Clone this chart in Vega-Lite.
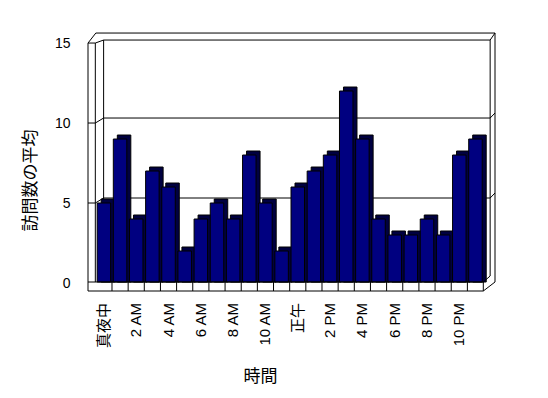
{
  "$schema": "https://vega.github.io/schema/vega-lite/v6.json",
  "width": 417,
  "height": 259,
  "autosize": "none",
  "padding": {"left": 83, "top": 32, "right": 48, "bottom": 107},
  "background": "white",
  "config": {"view": {"stroke": null}, "font": "Liberation Sans"},
  "datasets": {
    "visits": [
      {"hour": 0, "avg": 5}, {"hour": 1, "avg": 9}, {"hour": 2, "avg": 4}, {"hour": 3, "avg": 7},
      {"hour": 4, "avg": 6}, {"hour": 5, "avg": 2}, {"hour": 6, "avg": 4}, {"hour": 7, "avg": 5},
      {"hour": 8, "avg": 4}, {"hour": 9, "avg": 8}, {"hour": 10, "avg": 5}, {"hour": 11, "avg": 2},
      {"hour": 12, "avg": 6}, {"hour": 13, "avg": 7}, {"hour": 14, "avg": 8}, {"hour": 15, "avg": 12},
      {"hour": 16, "avg": 9}, {"hour": 17, "avg": 4}, {"hour": 18, "avg": 3}, {"hour": 19, "avg": 3},
      {"hour": 20, "avg": 4}, {"hour": 21, "avg": 3}, {"hour": 22, "avg": 8}, {"hour": 23, "avg": 9}
    ],
    "ticklabels": [
      {"hour": 0, "label": "真夜中"}, {"hour": 2, "label": "2 AM"}, {"hour": 4, "label": "4 AM"},
      {"hour": 6, "label": "6 AM"}, {"hour": 8, "label": "8 AM"}, {"hour": 10, "label": "10 AM"},
      {"hour": 12, "label": "正午"}, {"hour": 14, "label": "2 PM"}, {"hour": 16, "label": "4 PM"},
      {"hour": 18, "label": "6 PM"}, {"hour": 20, "label": "8 PM"}, {"hour": 22, "label": "10 PM"}
    ],
    "walls": [
      {"x1": -0.985, "y1": 15, "x2": -0.985, "y2": -0.5},
      {"x1": -0.985, "y1": 15, "x2": -0.5, "y2": 15.625},
      {"x1": -0.5, "y1": 15.625, "x2": 24.21, "y2": 15.625},
      {"x1": 24.21, "y1": 15.625, "x2": 24.21, "y2": 0.0625},
      {"x1": -0.985, "y1": 15, "x2": -0.532, "y2": 15},
      {"x1": -0.532, "y1": 15, "x2": -0.532, "y2": 0.0625},
      {"x1": -0.532, "y1": 15, "x2": -0.018, "y2": 15.1875},
      {"x1": -0.018, "y1": 15.1875, "x2": -0.018, "y2": 0.0625},
      {"x1": -0.018, "y1": 15.1875, "x2": 23.91, "y2": 15.1875},
      {"x1": 23.91, "y1": 15.1875, "x2": 23.91, "y2": 0.4375},
      {"x1": 23.91, "y1": 15.1875, "x2": 24.21, "y2": 15.625},
      {"x1": -0.985, "y1": 10, "x2": -0.532, "y2": 10},
      {"x1": -0.532, "y1": 10, "x2": -0.018, "y2": 10.3125},
      {"x1": -0.018, "y1": 10.3125, "x2": 23.91, "y2": 10.3125},
      {"x1": 23.91, "y1": 10.3125, "x2": 24.21, "y2": 10.625},
      {"x1": -0.985, "y1": 5, "x2": -0.532, "y2": 5},
      {"x1": -0.532, "y1": 5, "x2": -0.018, "y2": 5.3125},
      {"x1": -0.018, "y1": 5.3125, "x2": 23.91, "y2": 5.3125},
      {"x1": 23.91, "y1": 5.3125, "x2": 24.21, "y2": 5.625}
    ],
    "floor": [
      {"x1": -0.985, "y1": 0.0625, "x2": 23.486, "y2": 0.0625},
      {"x1": -0.985, "y1": -0.5, "x2": 23.486, "y2": -0.5},
      {"x1": 23.486, "y1": 0.0625, "x2": 23.486, "y2": -0.5},
      {"x1": 23.486, "y1": -0.5, "x2": 24.21, "y2": 0.0625},
      {"x1": 23.486, "y1": 0.0625, "x2": 23.91, "y2": 0.4375},
      {"x1": 0.5, "y1": 0.0625, "x2": 0.5, "y2": -0.5},
      {"x1": 1.5, "y1": 0.0625, "x2": 1.5, "y2": -0.5},
      {"x1": 2.5, "y1": 0.0625, "x2": 2.5, "y2": -0.5},
      {"x1": 3.5, "y1": 0.0625, "x2": 3.5, "y2": -0.5},
      {"x1": 4.5, "y1": 0.0625, "x2": 4.5, "y2": -0.5},
      {"x1": 5.5, "y1": 0.0625, "x2": 5.5, "y2": -0.5},
      {"x1": 6.5, "y1": 0.0625, "x2": 6.5, "y2": -0.5},
      {"x1": 7.5, "y1": 0.0625, "x2": 7.5, "y2": -0.5},
      {"x1": 8.5, "y1": 0.0625, "x2": 8.5, "y2": -0.5},
      {"x1": 9.5, "y1": 0.0625, "x2": 9.5, "y2": -0.5},
      {"x1": 10.5, "y1": 0.0625, "x2": 10.5, "y2": -0.5},
      {"x1": 11.5, "y1": 0.0625, "x2": 11.5, "y2": -0.5},
      {"x1": 12.5, "y1": 0.0625, "x2": 12.5, "y2": -0.5},
      {"x1": 13.5, "y1": 0.0625, "x2": 13.5, "y2": -0.5},
      {"x1": 14.5, "y1": 0.0625, "x2": 14.5, "y2": -0.5},
      {"x1": 15.5, "y1": 0.0625, "x2": 15.5, "y2": -0.5},
      {"x1": 16.5, "y1": 0.0625, "x2": 16.5, "y2": -0.5},
      {"x1": 17.5, "y1": 0.0625, "x2": 17.5, "y2": -0.5},
      {"x1": 18.5, "y1": 0.0625, "x2": 18.5, "y2": -0.5},
      {"x1": 19.5, "y1": 0.0625, "x2": 19.5, "y2": -0.5},
      {"x1": 20.5, "y1": 0.0625, "x2": 20.5, "y2": -0.5},
      {"x1": 21.5, "y1": 0.0625, "x2": 21.5, "y2": -0.5},
      {"x1": 22.5, "y1": 0.0625, "x2": 22.5, "y2": -0.5}
    ]
  },
  "resolve": {"scale": {"x": "shared", "y": "shared"}},
  "layer": [
    {
      "data": {"name": "walls"},
      "mark": {"type": "rule", "color": "black", "strokeWidth": 1},
      "encoding": {
        "x": {"field": "x1", "type": "quantitative", "scale": {"domain": [-0.985, 24.21], "nice": false, "zero": false},
          "axis": {
            "labels": false,
            "ticks": false,
            "domain": false,
            "grid": false,
            "title": "時間",
            "titleFont": "Noto Sans CJK JP",
            "titleFontSize": 17,
            "titleFontWeight": "normal",
            "titleColor": "black",
            "titleX": 177,
            "titleY": 85,
            "titleAlign": "center",
            "titleBaseline": "middle"
          }},
        "x2": {"field": "x2"},
        "y": {"field": "y1", "type": "quantitative", "scale": {"domain": [-0.5, 15.69], "nice": false, "zero": false},
          "axis": {
            "values": [0, 5, 10, 15],
            "ticks": false,
            "domain": false,
            "grid": false,
            "labelPadding": 13,
            "labelFont": "Liberation Sans",
            "labelFontSize": 14,
            "labelColor": "black",
            "labelFlush": false,
            "title": "訪問数の平均",
            "titleFont": "Noto Sans CJK JP",
            "titleFontSize": 17,
            "titleFontWeight": "normal",
            "titleColor": "black",
            "titleAngle": -90,
            "titleX": -53,
            "titleY": 148,
            "titleAlign": "center",
            "titleBaseline": "middle"
          }},
        "y2": {"field": "y2"}
      }
    },
    {
      "data": {"name": "visits"},
      "mark": {"type": "bar", "width": 13.5, "color": "#000040", "stroke": "black", "strokeWidth": 1, "xOffset": 4, "yOffset": -4, "y2Offset": 0},
      "encoding": {
        "x": {"field": "hour", "type": "quantitative"},
        "y": {"field": "avg", "type": "quantitative"},
        "y2": {"datum": 0.0625}
      }
    },
    {
      "data": {"name": "visits"},
      "mark": {"type": "bar", "width": 13.5, "color": "#000080", "stroke": "black", "strokeWidth": 1},
      "encoding": {
        "x": {"field": "hour", "type": "quantitative"},
        "y": {"field": "avg", "type": "quantitative"},
        "y2": {"datum": 0.0625}
      }
    },
    {
      "data": {"name": "floor"},
      "mark": {"type": "rule", "color": "black", "strokeWidth": 1},
      "encoding": {
        "x": {"field": "x1", "type": "quantitative"},
        "x2": {"field": "x2"},
        "y": {"field": "y1", "type": "quantitative"},
        "y2": {"field": "y2"}
      }
    },
    {
      "data": {"name": "ticklabels"},
      "mark": {"type": "text", "angle": 270, "align": "right", "baseline": "middle", "font": "Liberation Sans, Noto Sans CJK JP", "fontSize": 15, "color": "black", "yOffset": 12},
      "encoding": {
        "x": {"field": "hour", "type": "quantitative"},
        "y": {"datum": -0.5, "type": "quantitative"},
        "text": {"field": "label"}
      }
    }
  ]
}
